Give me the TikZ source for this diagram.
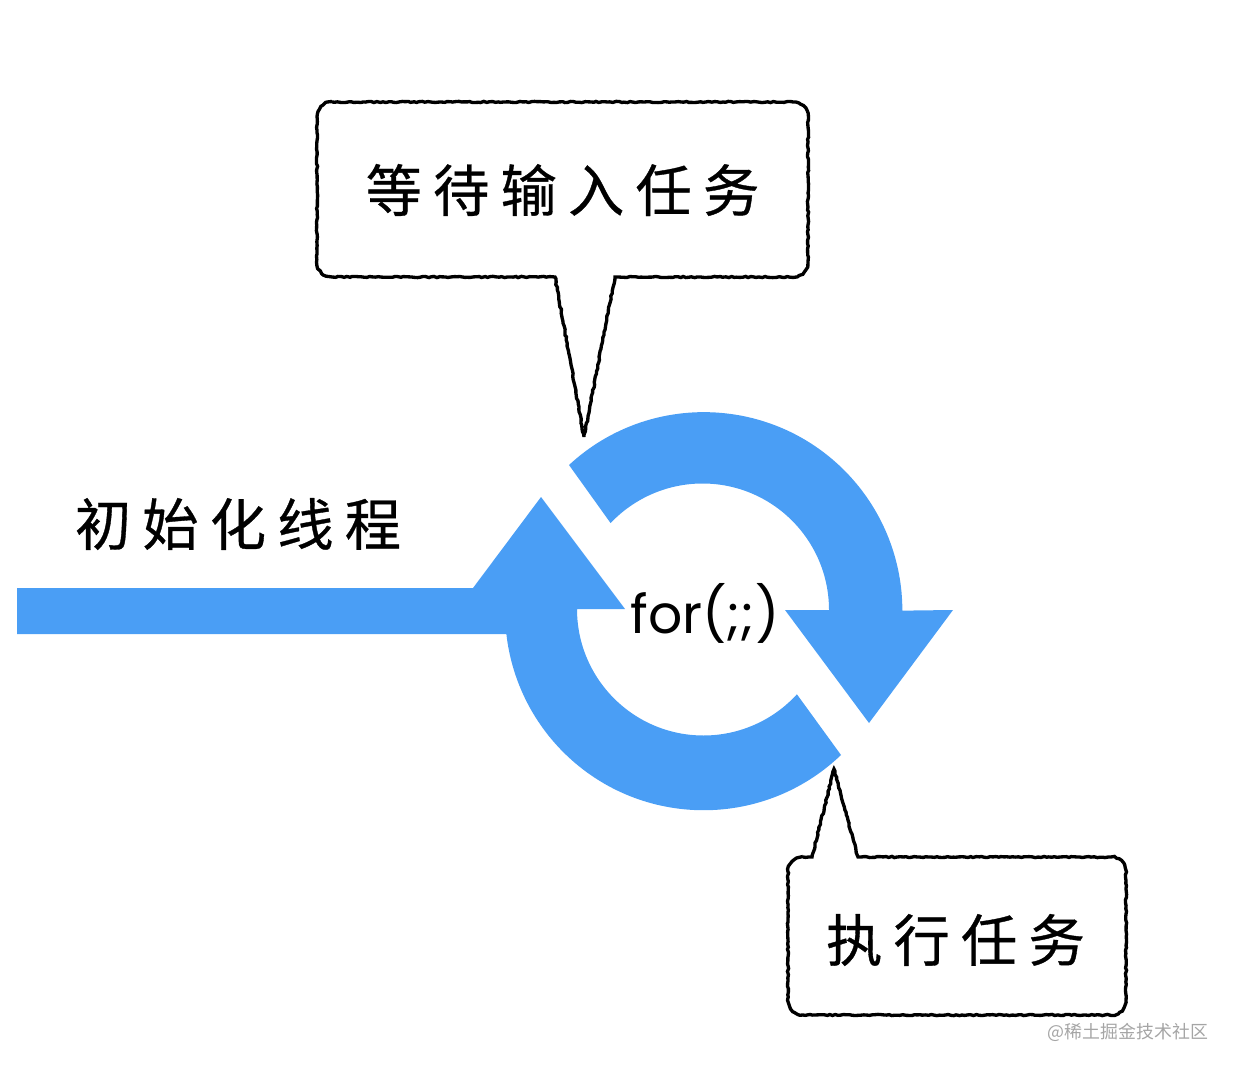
\documentclass[tikz,border=0pt]{standalone}
\usepackage{fontspec}
\usepackage{xcolor}
\usepackage{tikz}
\usetikzlibrary{decorations.pathmorphing}
\newfontfamily\cjk[LetterSpace=20,FakeBold=0.6]{Noto Sans CJK SC}
\newfontfamily\cjkplain{Noto Sans CJK SC}
\newfontfamily\forfont{Poppins}
\definecolor{loopblue}{RGB}{74,158,245}
\definecolor{markgray}{RGB}{165,165,165}
\tikzset{
	wobbly/.style={draw=black, line width=1.9pt, decorate, decoration={random steps, segment length=1.6pt, amplitude=0.35pt}},
	looparrow/.style={fill=loopblue},
	tasklabel/.style={font=\cjk\fontsize{32}{38}\selectfont, inner sep=0pt}
}
\begin{document}
\begin{tikzpicture}[x=0.02cm, y=-0.02cm]
	\useasboundingbox (0,0) rectangle (1236,1070);
	
	% upper arrow
	\fill[looparrow] (569,465) arc[start angle=-132.8, end angle=0, radius=198.5] -- (953,610) -- (869,723) -- (785,610) -- (829,610) arc[start angle=0, end angle=-136.6, radius=126.5] -- cycle;
	
	% lower arrow with the bar
	\fill[looparrow] (17,588) -- (473,588) -- (541,497) -- (625,609) -- (577,609) arc[start angle=180, end angle=42.4, radius=126.5] -- (841,755) arc[start angle=46.2, end angle=173.5, radius=198.5] -- (17,634) -- cycle;
	
	% upper bubble
	\draw[wobbly] (332,102) -- (793,102) arc[start angle=-90, end angle=0, radius=15] -- (808,262) arc[start angle=0, end angle=90, radius=15] -- (615,277) -- (584,437) -- (555,277) -- (332,277) arc[start angle=90, end angle=180, radius=15] -- (317,117) arc[start angle=180, end angle=270, radius=15] -- cycle;
	
	% lower bubble
	\draw[wobbly] (803,857) -- (812,857) -- (834,769) -- (858,857) -- (1111,857) arc[start angle=-90, end angle=0, radius=15] -- (1126,1000) arc[start angle=0, end angle=90, radius=15] -- (803,1015) arc[start angle=90, end angle=180, radius=15] -- (788,872) arc[start angle=180, end angle=270, radius=15] -- cycle;
	
	\foreach \x/\y/\w/\z in
	{wait/562.5/190/等待输入任务, init/238/524/初始化线程, run/955.5/940/执行任务}{
		\node[tasklabel] (\x) at (\y,\w) {\z};
	}
	
	\node[inner sep=0pt, font=\forfont\fontsize{30.5}{36}\selectfont] (loop) at (705,613) {for(;;)};
	\node[inner sep=0pt, text=markgray, font=\cjkplain\fontsize{10.2}{12}\selectfont] (mark) at (1128,1032) {@稀土掘金技术社区};
\end{tikzpicture}
\end{document}
